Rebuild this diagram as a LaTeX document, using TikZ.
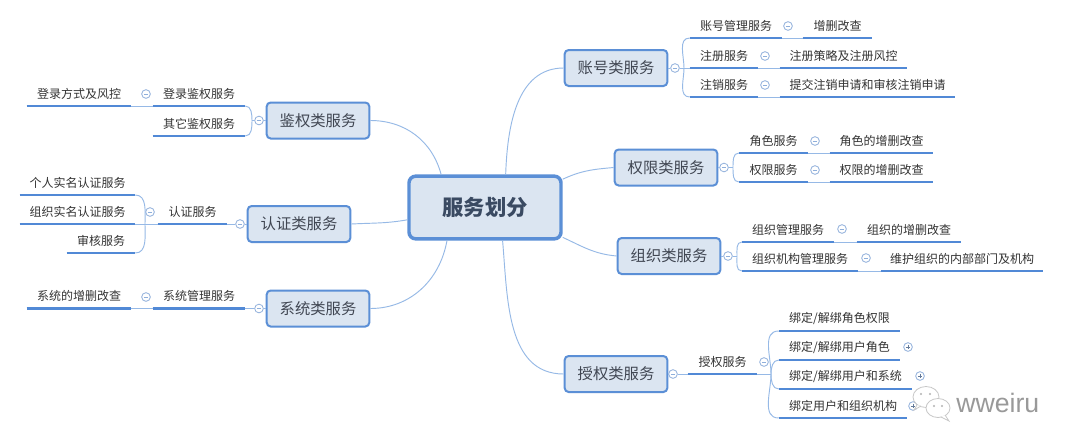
\documentclass[tikz,border=0pt]{standalone}
\usepackage{fontspec}
\setmainfont{Noto Sans CJK SC}
\newfontfamily\wmfont{Liberation Sans}
\definecolor{uline}{HTML}{5189D6}
\definecolor{connc}{HTML}{96B9E6}
\definecolor{boxfill}{HTML}{DBE5F1}
\definecolor{boxdraw}{HTML}{5B8FD6}
\definecolor{txt}{HTML}{333333}
\definecolor{maintxt}{HTML}{404652}
\definecolor{roottxt}{HTML}{3A4A62}
\definecolor{iconc}{HTML}{8FAFDB}
\begin{document}
\begin{tikzpicture}[x=0.75pt,y=-0.75pt,
  conn/.style={draw=connc, line width=0.7pt},
  leaf/.style={inner sep=0pt, minimum height=18pt, text=txt, font=\fontsize{9}{10}\selectfont, anchor=south, minimum width=#1*0.75pt},
  mainbox/.style={draw=boxdraw, fill=boxfill, line width=1.5pt, rounded corners=3pt, minimum width=77pt, minimum height=27pt, inner sep=0pt, text=maintxt, font=\fontsize{11.5}{13}\selectfont},
  rootbox/.style={draw=boxdraw, fill=boxfill, line width=2.6pt, rounded corners=5pt, minimum width=114pt, minimum height=47pt, inner sep=0pt, text=roottxt, font=\fontsize{16}{18}\selectfont\bfseries},
  minus/.style={circle, draw=iconc, fill=white, line width=0.6pt, minimum size=6.5pt, inner sep=0pt,
     path picture={\draw[iconc,line width=0.6pt] ([xshift=1.6pt]path picture bounding box.west) -- ([xshift=-1.6pt]path picture bounding box.east);}},
  plus/.style={circle, draw=iconc, fill=white, line width=0.6pt, minimum size=6.5pt, inner sep=0pt,
     path picture={\draw[iconc!70!black,line width=0.6pt] ([xshift=1.6pt]path picture bounding box.west) -- ([xshift=-1.6pt]path picture bounding box.east);
                   \draw[iconc!70!black,line width=0.6pt] ([yshift=-1.6pt]path picture bounding box.north) -- ([yshift=1.6pt]path picture bounding box.south);}}
]
\fill[white] (0,0) rectangle (1080,447);
\useasboundingbox (0,0) rectangle (1080,447);

% ---------- main nodes ----------
\node[rootbox] (root) at (485,207.5) {服务划分};
\node[mainbox] (jq) at (318,120.5) {鉴权类服务};
\node[mainbox] (rz) at (299,224) {认证类服务};
\node[mainbox] (xt) at (318,308.5) {系统类服务};
\node[mainbox] (zh) at (616,68) {账号类服务};
\node[mainbox] (qx) at (666,167.5) {权限类服务};
\node[mainbox] (zz) at (669,256) {组织类服务};
\node[mainbox] (sq) at (616,374) {授权类服务};

% ---------- leaves (text above underline) ----------
\node[leaf=92] (dl) at (199,106) {登录鉴权服务};
\node[leaf=92] (qt) at (199,136) {其它鉴权服务};
\node[leaf=104] (dlfs) at (79,106) {登录方式及风控};
\node[leaf=69] (rzfw) at (192.5,224) {认证服务};
\node[leaf=115] (gr) at (77.5,195) {个人实名认证服务};
\node[leaf=115] (zzs) at (77.5,224) {组织实名认证服务};
\node[leaf=68] (sh) at (101,253) {审核服务};
\node[leaf=92] (xtgl) at (199,308.5) {系统管理服务};
\node[leaf=104] (xtzs) at (79,308.5) {系统的增删改查};

\node[leaf=92] (zhgl) at (736,38) {账号管理服务};
\node[leaf=69] (zszc) at (837.5,38) {增删改查};
\node[leaf=68] (zcfw) at (724,68) {注册服务};
\node[leaf=127] (zccl) at (843.5,68) {注册策略及注册风控};
\node[leaf=68] (zxfw) at (724,97) {注销服务};
\node[leaf=175] (tjzx) at (867.5,97) {提交注销申请和审核注销申请};

\node[leaf=69] (jsfw) at (773.5,153) {角色服务};
\node[leaf=103] (jszs) at (881.5,153) {角色的增删改查};
\node[leaf=69] (qxfw) at (773.5,182) {权限服务};
\node[leaf=103] (qxzs) at (881.5,182) {权限的增删改查};

\node[leaf=92] (zzgl) at (788,242) {组织管理服务};
\node[leaf=104] (zzzs) at (909,242) {组织的增删改查};
\node[leaf=116] (zzjg) at (800,271) {组织机构管理服务};
\node[leaf=162] (whzz) at (962,271) {维护组织的内部部门及机构};

\node[leaf=69] (sqfw) at (722.5,374) {授权服务};
\node[leaf=121] (b1) at (839.5,331) {绑定/解绑角色权限};
\node[leaf=121] (b2) at (839.5,360) {绑定/解绑用户角色};
\node[leaf=133] (b3) at (845.5,389) {绑定/解绑用户和系统};
\node[leaf=128] (b4) at (843,418) {绑定用户和组织机构};

% underlines
\foreach \n in {dl,qt,dlfs,rzfw,gr,zzs,sh,xtgl,xtzs,zhgl,zszc,zcfw,zccl,zxfw,tjzx,jsfw,jszs,qxfw,qxzs,zzgl,zzzs,zzjg,whzz,sqfw,b1,b2,b3,b4}
  \draw[draw=uline, line width=1.7pt] (\n.south west) -- (\n.south east);

% ---------- collapse icons ----------
\node[minus] (cjq) at (259,120.5) {};
\node[minus] (crz) at (240,224) {};
\node[minus] (cxt) at (259,308.5) {};
\node[minus] (czh) at (675,68) {};
\node[minus] (cqx) at (724,167.5) {};
\node[minus] (czz) at (728,256) {};
\node[minus] (csq) at (673,374) {};
\node[minus] (cdl) at (146,94) {};
\node[minus] (crzfw) at (150,212) {};
\node[minus] (cxtgl) at (146,297) {};
\node[minus] (czhgl) at (788,26) {};
\node[minus] (czc) at (765,56) {};
\node[minus] (czx) at (765,85) {};
\node[minus] (cjs) at (815,141) {};
\node[minus] (cqxf) at (815,170) {};
\node[minus] (czzgl) at (842,229) {};
\node[minus] (czzjg) at (866,258) {};
\node[minus] (csqfw) at (764,362) {};
\node[plus] (p2) at (908,347) {};
\node[plus] (p3) at (920,376) {};
\node[plus] (p4) at (913,406) {};

% ---------- junction coordinates ----------
\coordinate (jjq) at (252,120.5);
\coordinate (jrz) at (145,224);
\coordinate (jzh) at (684,68);
\coordinate (jqx) at (733,167.5);
\coordinate (jzz) at (737,256);
\coordinate (jsq) at (771,374);

% ---------- connectors root -> main ----------
\draw[conn] (jq.east) to[out=0,in=105] (root.143);
\draw[conn] (rz.east) to[out=3,in=190] (root.189);
\draw[conn] (xt.east) to[out=0,in=-100] (root.221);
\draw[conn] (root.58) to[out=88,in=180] (zh.west);
\draw[conn] (root.20) to[out=25,in=185] (qx.west);
\draw[conn] (root.-21) to[out=-25,in=175] (zz.west);
\draw[conn] (root.298) to[out=-85,in=180] (sq.west);

% ---------- left branches ----------
\draw[conn] (jq.west) -- (cjq);
\draw[conn] (cjq) -- (jjq);
\draw[conn] (jjq) to[out=90,in=0] (dl.south east);
\draw[conn] (jjq) to[out=-90,in=0] (qt.south east);
\draw[conn] (dl.south west) -- (dlfs.south east);

\draw[conn] (rz.west) -- (crz);
\draw[conn] (crz) -- (rzfw.south east);
\draw[conn] (rzfw.south west) -- (jrz);
\draw[conn] (jrz) to[out=90,in=0] (gr.south east);
\draw[conn] (jrz) -- (zzs.south east);
\draw[conn] (jrz) to[out=-90,in=0] (sh.south east);

\draw[conn] (xt.west) -- (cxt);
\draw[conn] (cxt) -- (xtgl.south east);
\draw[conn] (xtgl.south west) -- (xtzs.south east);

% ---------- right branches ----------
\draw[conn] (zh.east) -- (czh);
\draw[conn] (czh) -- (jzh);
\draw[conn] (jzh) to[out=90,in=180] (zhgl.south west);
\draw[conn] (jzh) -- (zcfw.south west);
\draw[conn] (jzh) to[out=-90,in=180] (zxfw.south west);
\draw[conn] (zhgl.south east) -- (zszc.south west);
\draw[conn] (zcfw.south east) -- (zccl.south west);
\draw[conn] (zxfw.south east) -- (tjzx.south west);

\draw[conn] (qx.east) -- (cqx);
\draw[conn] (cqx) -- (jqx);
\draw[conn] (jqx) to[out=90,in=180] (jsfw.south west);
\draw[conn] (jqx) to[out=-90,in=180] (qxfw.south west);
\draw[conn] (jsfw.south east) -- (jszs.south west);
\draw[conn] (qxfw.south east) -- (qxzs.south west);

\draw[conn] (zz.east) -- (czz);
\draw[conn] (czz) -- (jzz);
\draw[conn] (jzz) to[out=90,in=180] (zzgl.south west);
\draw[conn] (jzz) to[out=-90,in=180] (zzjg.south west);
\draw[conn] (zzgl.south east) -- (zzzs.south west);
\draw[conn] (zzjg.south east) -- (whzz.south west);

\draw[conn] (sq.east) -- (csq);
\draw[conn] (csq) -- (sqfw.south west);
\draw[conn] (sqfw.south east) -- (jsq);
\draw[conn] (jsq) to[out=90,in=180] (b1.south west);
\draw[conn] (jsq) to[out=90,in=180] (b2.south west);
\draw[conn] (jsq) to[out=-90,in=180] (b3.south west);
\draw[conn] (jsq) to[out=-90,in=180] (b4.south west);

% ---------- watermark ----------
\begin{scope}[draw=black!22, line width=0.6pt]
  \draw[fill=white] (926,397) ellipse [x radius=13, y radius=10.5];
  \draw[fill=white] (917,405) -- (914,410) -- (921,406);
  \draw[fill=white] (938,408) ellipse [x radius=12, y radius=9.5];
  \draw[fill=white] (945,415) -- (949,421) -- (941,417);
  \fill[black!30] (921,394) circle (1.1) (930,394) circle (1.1) (934,406) circle (1.1) (942,406) circle (1.1);
\end{scope}
\node[anchor=base west, inner sep=0pt, text=black!40, font=\wmfont\fontsize{20}{22}\selectfont] (wm) at (956,412) {wweiru};
\end{tikzpicture}
\end{document}
